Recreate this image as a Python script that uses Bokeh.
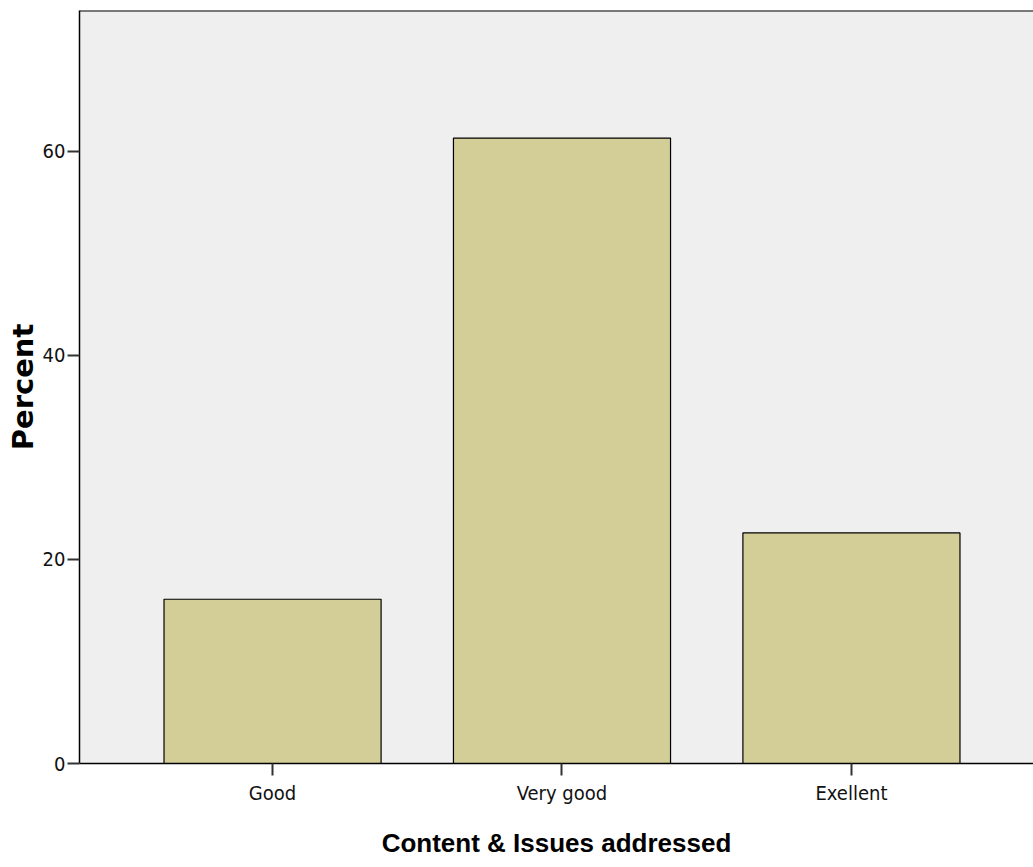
from bokeh.plotting import figure
from bokeh.models import Range1d, FixedTicker, Span, ColumnDataSource
from bokeh.embed import file_html
from bokeh.resources import INLINE

categories = ["Good", "Very good", "Exellent"]
percent = [16.1, 61.3, 22.6]
y_ticks = [0, 20, 40, 60]

positions = list(range(len(categories)))
src = ColumnDataSource(dict(x=positions, top=percent, cat=categories))

Y_MAX = 73.8

p = figure(width=1033, height=867, output_backend="svg", toolbar_location=None,
           x_range=Range1d(-0.667, 2.629), y_range=Range1d(0, Y_MAX),
           min_border_left=79, min_border_right=0, min_border_top=10, min_border_bottom=104)

p.background_fill_color = "#EFEFEF"
p.border_fill_color = "white"
p.outline_line_color = None
p.xgrid.grid_line_color = None
p.ygrid.grid_line_color = None

p.vbar(x="x", top="top", width=0.75, source=src, fill_color="#D3CD97",
       line_color="black", line_width=1.2)

p.add_layout(Span(location=Y_MAX, dimension="width", line_color="black", line_width=2))

p.xaxis.ticker = FixedTicker(ticks=positions)
p.xaxis.major_label_overrides = {i: c for i, c in enumerate(categories)}
p.yaxis.ticker = FixedTicker(ticks=y_ticks)

for ax in (p.xaxis, p.yaxis):
    ax.axis_line_color = "black"
    ax.axis_line_width = 1.5
    ax.major_tick_line_color = "#333333"
    ax.major_tick_line_width = 2
    ax.major_tick_in = 0
    ax.major_tick_out = 12
    ax.minor_tick_line_color = None
    ax.major_label_text_font = "DejaVu Sans Condensed"
    ax.major_label_text_font_size = "20px"
    ax.major_label_text_color = "#111111"
    ax.axis_label_text_color = "black"
    ax.axis_label_text_font_style = "bold"

p.xaxis.major_label_standoff = 5
p.yaxis.major_label_standoff = 2

p.xaxis.axis_label = "Content & Issues addressed"
p.xaxis.axis_label_text_font = "Liberation Sans"
p.xaxis.axis_label_text_font_size = "26px"
p.xaxis.axis_label_standoff = 20

p.yaxis.axis_label = "Percent"
p.yaxis.axis_label_text_font = "DejaVu Sans"
p.yaxis.axis_label_text_font_size = "29px"
p.yaxis.axis_label_standoff = 0

open("out.html", "w").write(file_html(p, INLINE))
